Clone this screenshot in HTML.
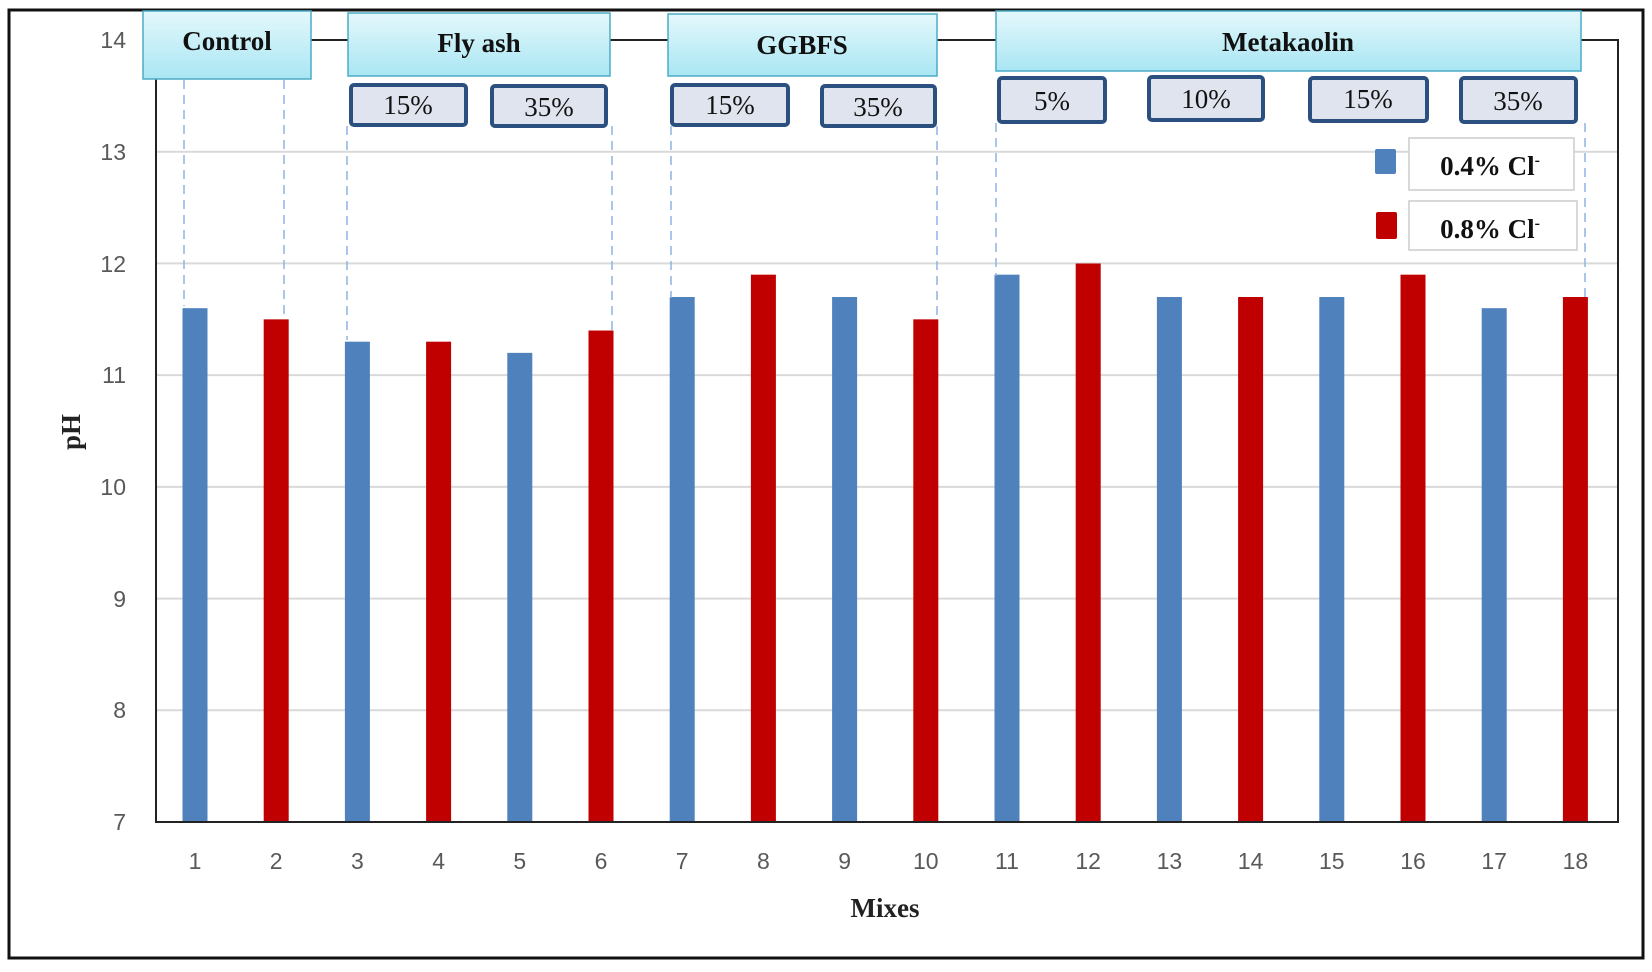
<!DOCTYPE html>
<html><head><meta charset="utf-8"><style>html,body{margin:0;padding:0;background:#fff}</style></head>
<body>
<svg width="1652" height="967" xmlns="http://www.w3.org/2000/svg" font-family="Liberation Serif, serif">
<defs>
<linearGradient id="cy" x1="0" y1="0" x2="0" y2="1"><stop offset="0" stop-color="#e4f8fc"/><stop offset="1" stop-color="#a9e6f3"/></linearGradient>
</defs>
<rect x="0" y="0" width="1652" height="967" fill="#fff"/>
<rect x="9" y="10" width="1634" height="948" fill="none" stroke="#111" stroke-width="3"/>
<g id="grid" stroke="#d9d9d9" stroke-width="2">
<line x1="156" x2="1618" y1="151.7" y2="151.7"/><line x1="156" x2="1618" y1="263.4" y2="263.4"/>
<line x1="156" x2="1618" y1="375.1" y2="375.1"/><line x1="156" x2="1618" y1="486.9" y2="486.9"/>
<line x1="156" x2="1618" y1="598.6" y2="598.6"/><line x1="156" x2="1618" y1="710.3" y2="710.3"/>
</g>
<g font-family="Liberation Sans, sans-serif" font-size="23" fill="#595959" text-anchor="end">
<text x="126" y="48">14</text><text x="126" y="160">13</text><text x="126" y="272">12</text><text x="126" y="383">11</text>
<text x="126" y="495">10</text><text x="126" y="607">9</text><text x="126" y="718">8</text><text x="126" y="830">7</text>
</g>
<g id="bars"></g>
<rect x="156" y="40" width="1462" height="782" fill="none" stroke="#222" stroke-width="2"/>
<g stroke="#8fb4e3" stroke-width="1.5" stroke-dasharray="9,6">
<line x1="184" x2="184" y1="80" y2="306"/><line x1="284" x2="284" y1="80" y2="320"/>
<line x1="347" x2="347" y1="126" y2="340"/><line x1="612" x2="612" y1="126" y2="330"/>
<line x1="671" x2="671" y1="126" y2="298"/><line x1="937" x2="937" y1="126" y2="320"/>
<line x1="996" x2="996" y1="123" y2="276"/><line x1="1585" x2="1585" y1="123" y2="298"/>
</g>
<g id="xl" font-family="Liberation Sans, sans-serif" font-size="23" fill="#595959" text-anchor="middle"></g>
<text x="885" y="917" font-size="27" font-weight="bold" text-anchor="middle" fill="#222">Mixes</text>
<text transform="translate(80,432) rotate(-90)" font-size="27" font-weight="bold" text-anchor="middle" fill="#222">pH</text>
<g stroke="#4bacc6" stroke-width="1.5" fill="url(#cy)">
<rect x="143" y="11" width="168" height="68"/><rect x="348" y="13" width="262" height="63"/>
<rect x="668" y="14" width="269" height="62"/><rect x="996" y="11" width="585" height="60"/>
</g>
<g font-size="27" font-weight="bold" fill="#111" text-anchor="middle">
<text x="227" y="50">Control</text><text x="479" y="52">Fly ash</text><text x="802" y="54">GGBFS</text><text x="1288" y="51">Metakaolin</text>
</g>
<g stroke="#2b4f7f" stroke-width="4" fill="#dfe4ee">
<rect x="351" y="85" width="115" height="40" rx="3"/><rect x="492" y="86" width="114" height="40" rx="3"/>
<rect x="672" y="85" width="116" height="40" rx="3"/><rect x="822" y="86" width="113" height="40" rx="3"/>
<rect x="999" y="78" width="106" height="44" rx="3"/><rect x="1149" y="77" width="114" height="43" rx="3"/>
<rect x="1310" y="78" width="117" height="43" rx="3"/><rect x="1461" y="78" width="115" height="44" rx="3"/>
</g>
<g font-size="27" fill="#111" text-anchor="middle">
<text x="408" y="114">15%</text><text x="549" y="116">35%</text><text x="730" y="114">15%</text><text x="878" y="116">35%</text>
<text x="1052" y="110">5%</text><text x="1206" y="108">10%</text><text x="1368" y="108">15%</text><text x="1518" y="110">35%</text>
</g>
<rect x="1375" y="149" width="21" height="25" fill="#4f81bd" rx="2"/>
<rect x="1409" y="138" width="165" height="52" fill="#fff" stroke="#ccc" stroke-width="1.5"/>
<text x="1490" y="175" font-size="27" font-weight="bold" text-anchor="middle" fill="#111">0.4% Cl<tspan dy="-10" font-size="16">-</tspan></text>
<rect x="1376" y="212" width="21" height="27" fill="#c00000" rx="2"/>
<rect x="1409" y="201" width="168" height="49" fill="#fff" stroke="#ccc" stroke-width="1.5"/>
<text x="1490" y="238" font-size="27" font-weight="bold" text-anchor="middle" fill="#111">0.8% Cl<tspan dy="-10" font-size="16">-</tspan></text>
</svg>
<script>
var v=[11.6,11.5,11.3,11.3,11.2,11.4,11.7,11.9,11.7,11.5,11.9,12.0,11.7,11.7,11.7,11.9,11.6,11.7];
var b=document.getElementById('bars'),xl=document.getElementById('xl'),ns='http://www.w3.org/2000/svg';
v.forEach(function(d,i){var cx=195+i*81.2,y=822-(d-7)*111.7;
var r=document.createElementNS(ns,'rect');r.setAttribute('x',cx-12.5);r.setAttribute('y',y);r.setAttribute('width',25);r.setAttribute('height',822-y);
r.setAttribute('fill',i%2?'#c00000':'#4f81bd');b.appendChild(r);
var t=document.createElementNS(ns,'text');t.setAttribute('x',cx);t.setAttribute('y',869);t.textContent=i+1;xl.appendChild(t);});
</script>
</body></html>
